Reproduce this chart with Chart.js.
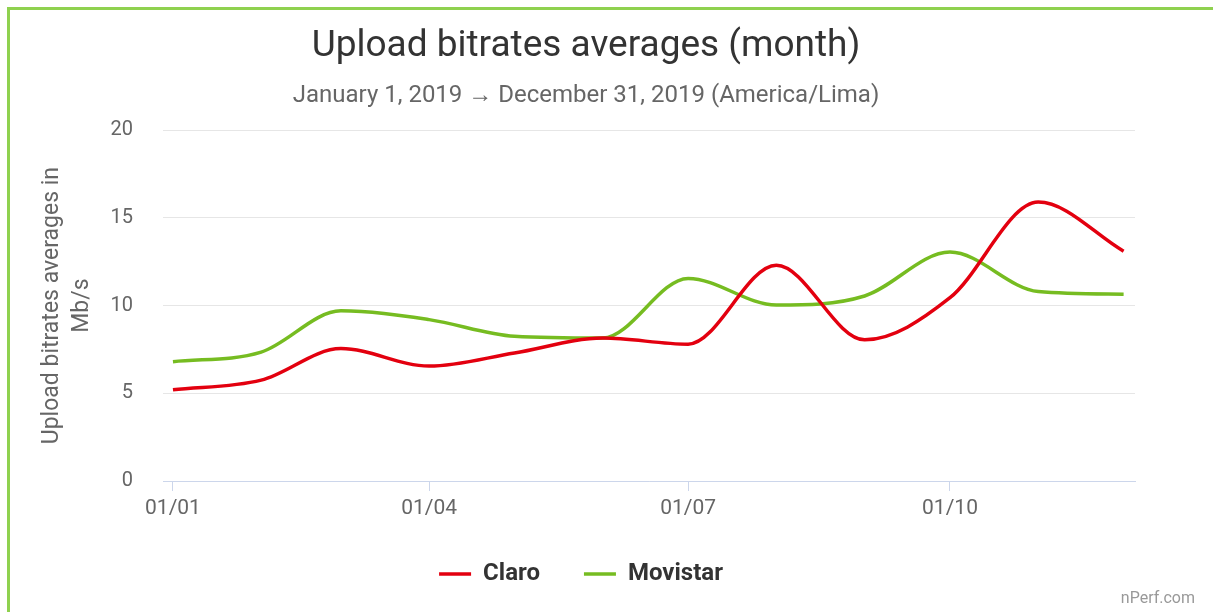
<!DOCTYPE html>
<html>
<head>
<meta charset="utf-8">
<script src="https://cdn.jsdelivr.net/npm/chart.js@4.4.1/dist/chart.umd.min.js"></script>
<style>
  html, body { margin: 0; padding: 0; background: #fff; }
  #wrap { position: relative; width: 1213px; height: 612px; }
  #frame { position: absolute; left: 7px; top: 7px; right: 0; bottom: 0;
           border-top: 3px solid #8fd14f; border-left: 3px solid #8fd14f; pointer-events: none; }
</style>
</head>
<body>
<div id="wrap">
  <canvas id="uploadChart" width="1213" height="612"></canvas>
  <div id="frame"></div>
</div>
<script>
// day of year for the first of each month (2019)
const monthDays = [0, 31, 59, 90, 120, 151, 181, 212, 243, 273, 304, 334];
const tickDays = [0, 90, 181, 273];
const tickLabels = ['01/01', '01/04', '01/07', '01/10'];

const claroValues    = [5.2, 5.75, 7.55, 6.55, 7.3, 8.15, 7.8, 12.3, 8.05, 10.45, 15.9, 13.1];
const movistarValues = [6.8, 7.35, 9.7, 9.2, 8.25, 8.15, 11.55, 10.03, 10.55, 13.05, 10.8, 10.65];

const toPoints = vals => vals.map((v, i) => ({ x: monthDays[i], y: v }));

// nPerf.com credit, bottom right; legend nudged a little to the left
const creditPlugin = {
    id: 'credit',
    afterLayout(chart) {
        chart.legend.left -= 5;
        chart.legend.right -= 5;
    },
    afterDraw(chart) {
        const ctx = chart.ctx;
        ctx.save();
        ctx.font = '16px Roboto';
        ctx.fillStyle = '#999999';
        ctx.textAlign = 'right';
        ctx.textBaseline = 'alphabetic';
        ctx.fillText('nPerf.com', 1195, 603);
        ctx.restore();
    }
};

const ctx = document.getElementById('uploadChart').getContext('2d');
new Chart(ctx, {
    type: 'line',
    data: {
        datasets: [{
            label: 'Claro',
            data: toPoints(claroValues),
            borderColor: '#e3000f',
            backgroundColor: '#e3000f',
            borderWidth: 3.5,
            pointRadius: 0,
            pointStyle: 'line',
            cubicInterpolationMode: 'monotone'
        }, {
            label: 'Movistar',
            data: toPoints(movistarValues),
            borderColor: '#76bc21',
            backgroundColor: '#76bc21',
            borderWidth: 3.5,
            pointRadius: 0,
            pointStyle: 'line',
            cubicInterpolationMode: 'monotone'
        }]
    },
    options: {
        responsive: false,
        animation: false,
        layout: { padding: { left: 37, right: 78, bottom: 16 } },
        scales: {
            x: {
                type: 'linear',
                min: -3.5,
                max: 338,
                afterBuildTicks: scale => { scale.ticks = tickDays.map(v => ({ value: v })); },
                afterFit: scale => { scale.height = 37; },
                ticks: {
                    color: '#666666',
                    font: { family: 'Roboto', size: 21 },
                    padding: 5,
                    maxRotation: 0,
                    callback: value => tickLabels[tickDays.indexOf(value)]
                },
                grid: { drawOnChartArea: false, drawTicks: true, tickLength: 10, color: '#ccd6eb' },
                border: { color: '#ccd6eb', width: 1 }
            },
            y: {
                min: 0,
                max: 20,
                afterFit: scale => { scale.width = 126; },
                ticks: {
                    stepSize: 5,
                    color: '#666666',
                    font: { family: 'Roboto', size: 20 },
                    padding: 30
                },
                grid: { drawTicks: false, color: '#e6e6e6' },
                border: { display: false },
                title: {
                    display: true,
                    text: ['Upload bitrates averages in', 'Mb/s'],
                    color: '#666666',
                    font: { family: 'Roboto', size: 23, lineHeight: 1.3 },
                    padding: { top: 0, bottom: 13 }
                }
            }
        },
        plugins: {
            title: {
                display: true,
                text: 'Upload bitrates averages (month)',
                color: '#333333',
                font: { family: 'Roboto', size: 37, weight: 'normal' },
                padding: { top: 25, bottom: 8 }
            },
            subtitle: {
                display: true,
                text: 'January 1, 2019 \u2192 December 31, 2019 (America/Lima)',
                color: '#666666',
                font: { family: 'Roboto', size: 24 },
                padding: { top: 4, bottom: 20 }
            },
            legend: {
                position: 'bottom',
                labels: {
                    color: '#333333',
                    font: { family: 'Roboto', size: 24, weight: 'bold' },
                    usePointStyle: true,
                    pointStyleWidth: 32,
                    padding: 44
                }
            },
            tooltip: { enabled: false }
        }
    },
    plugins: [creditPlugin]
});
</script>
</body>
</html>
